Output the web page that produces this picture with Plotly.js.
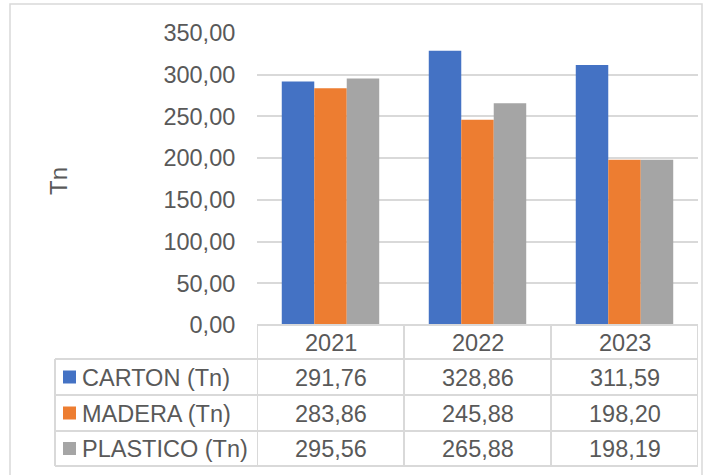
<!DOCTYPE html>
<html>
<head>
<meta charset="utf-8">
<script src="https://cdn.plot.ly/plotly-3.0.1.min.js"></script>
<style>html,body{margin:0;padding:0;background:#fff;}#chart{width:715px;height:475px;}</style>
</head>
<body>
<div id="chart"></div>
<script>
const categories = ['2021', '2022', '2023'];
const seriesNames = ['CARTON (Tn)', 'MADERA (Tn)', 'PLASTICO (Tn)'];
const carton = [291.76, 328.86, 311.59];
const madera = [283.86, 245.88, 198.20];
const plastico = [295.56, 265.88, 198.19];
const yTicks = [0, 50, 100, 150, 200, 250, 300, 350];

const seriesValues = [carton, madera, plastico];
const colors = ['#4472C4', '#ED7D31', '#A5A5A5'];
const textColor = '#595959';
const lineColor = '#D9D9D9';
const FONT = 'Liberation Sans, Arial, sans-serif';

const W = 715, H = 475;
const mL = 257, mR = 17, mT = 33, mB = 150;
const plotW = W - mL - mR, plotH = H - mT - mB;
const px2x = p => (p - mL) / plotW;
const py2y = p => (H - mB - p) / plotH;

const fmt = v => v.toFixed(2).replace('.', ',');

const traces = seriesValues.map((vals, i) => ({
  type: 'bar',
  x: categories,
  y: vals,
  name: seriesNames[i],
  marker: {color: colors[i]},
  showlegend: false,
  hoverinfo: 'skip'
}));

// Table geometry (pixels)
const headerTop = 325, rowLines = [359, 395, 431, 466];
const tableLeft = 55;
const shapes = [];
const ln = {color: lineColor, width: 2};
shapes.push({type: 'line', xref: 'x', yref: 'paper', x0: -0.5, x1: 2.5, y0: py2y(headerTop), y1: py2y(headerTop), line: ln, layer: 'above'});
rowLines.forEach(p => {
  shapes.push({type: 'line', xref: 'paper', yref: 'paper', x0: px2x(tableLeft), x1: 1, y0: py2y(p), y1: py2y(p), line: ln});
});
shapes.push({type: 'line', xref: 'paper', yref: 'paper', x0: px2x(tableLeft), x1: px2x(tableLeft), y0: py2y(rowLines[0]), y1: py2y(rowLines[3]), line: ln});
[-0.5, 0.5, 1.5, 2.5].forEach(x => {
  shapes.push({type: 'line', xref: 'x', yref: 'paper', x0: x, x1: x, y0: py2y(headerTop), y1: py2y(rowLines[3]), line: ln});
});
// outer chart border
shapes.push({type: 'rect', xref: 'paper', yref: 'paper', x0: px2x(10), x1: px2x(702), y0: py2y(480), y1: py2y(4), line: {color: lineColor, width: 1.5}});

const annotations = [];
const fnt = {family: FONT, size: 23.5, color: textColor};
// header years
categories.forEach((c, j) => {
  annotations.push({xref: 'x', yref: 'paper', x: j, y: py2y((headerTop + rowLines[0]) / 2 + 1), text: c, showarrow: false, font: fnt, xanchor: 'center', yanchor: 'middle'});
});
// rows
seriesValues.forEach((vals, i) => {
  const mid = (rowLines[i] + rowLines[i + 1]) / 2;
  const cy = py2y(mid + 1);
  shapes.push({type: 'rect', xref: 'paper', yref: 'paper', x0: px2x(63), x1: px2x(76), y0: py2y(mid + 6.5), y1: py2y(mid - 6.5), fillcolor: colors[i], line: {width: 0}});
  annotations.push({xref: 'paper', yref: 'paper', x: px2x(80), y: cy, text: seriesNames[i], showarrow: false, font: fnt, xanchor: 'left', yanchor: 'middle'});
  vals.forEach((v, j) => {
    annotations.push({xref: 'x', yref: 'paper', x: j, y: cy, text: fmt(v), showarrow: false, font: fnt, xanchor: 'center', yanchor: 'middle'});
  });
});
// axis title
annotations.push({xref: 'paper', yref: 'paper', x: px2x(58), y: py2y(181), text: 'Tn', textangle: -90, showarrow: false, font: {family: FONT, size: 24, color: textColor}, xanchor: 'center', yanchor: 'middle'});

const layout = {
  width: W, height: H,
  margin: {l: mL, r: mR, t: mT, b: mB, pad: 0},
  paper_bgcolor: '#fff', plot_bgcolor: '#fff',
  separators: ',.',
  barmode: 'group',
  bargap: 0.337,
  bargroupgap: 0,
  font: {family: FONT, color: textColor},
  xaxis: {type: 'category', range: [-0.5, 2.5], showticklabels: false, showgrid: false, zeroline: false, showline: false, ticks: '', fixedrange: true},
  yaxis: {
    range: [0, 350], tickvals: yTicks, ticktext: yTicks.map(fmt),
    showgrid: true, gridcolor: lineColor, gridwidth: 2,
    zeroline: false, showline: false,
    ticks: 'outside', ticklen: 16, tickcolor: 'rgba(0,0,0,0)',
    tickfont: {family: FONT, size: 23.5, color: textColor},
    fixedrange: true
  },
  shapes: shapes,
  annotations: annotations
};

Plotly.newPlot('chart', traces, layout, {staticPlot: true, displayModeBar: false});
</script>
</body>
</html>
